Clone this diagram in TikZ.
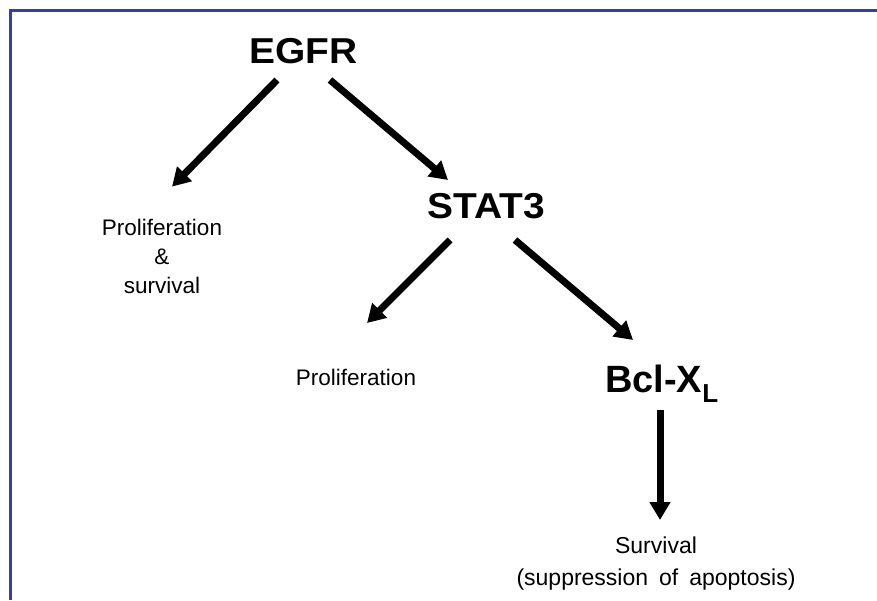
\documentclass[tikz,border=0pt]{standalone}
\usepackage{fontspec}
\setmainfont{Liberation Sans}
\usetikzlibrary{arrows.meta}
\definecolor{framecol}{RGB}{58,62,158}
\begin{document}
\begin{tikzpicture}[x=1pt,y=-1pt,
  big/.style={font=\fontsize{36}{40}\selectfont\bfseries, inner sep=0pt},
  small/.style={font=\fontsize{22.5}{29}\selectfont, inner sep=0pt, align=center},
  arr/.style={line width=7pt, -{Triangle[length=18pt,width=20pt]}}]
\useasboundingbox (0,0) rectangle (877,600);
\draw[framecol, line width=2.5pt] (877,10.5) -- (10.5,10.5) -- (10.5,600);

\node[big, anchor=base] (egfr) at (303.5,63) {\scalebox{1.08}[1]{EGFR}};
\node[big, anchor=base] (stat3) at (486.5,218) {\scalebox{1.08}[1]{STAT3}};
\node[big, anchor=base west] (bcl) at (605,392) {\fontsize{38}{40}\selectfont Bcl-X\raisebox{-10pt}{\fontsize{26}{28}\selectfont L}};

\node[small, anchor=north] (prol1) at (162,218.6) {Proliferation\\\&\\survival};
\node[small, anchor=base] (prol2) at (356,385) {Proliferation};
\node[small, anchor=north, font={\fontsize{23}{32}\selectfont\spaceskip=11pt\relax}] (surv) at (656,536.2) {Survival\\(suppression of apoptosis)};

\draw[arr] ([shift={(-26.5,17)}]egfr.base) -- ([shift={(10,-32)}]prol1.north);
\draw[arr] ([shift={(26.5,17)}]egfr.base) -- ([shift={(-38.5,-38)}]stat3.base);
\draw[arr] ([shift={(-36.5,22)}]stat3.base) -- ([shift={(11,-62)}]prol2.base);
\draw[arr] ([shift={(28.5,22)}]stat3.base) -- ([shift={(28,-52)}]bcl.base west);
\draw[arr] ([shift={(55,18)}]bcl.base west) -- ([shift={(4,-16.2)}]surv.north);
\end{tikzpicture}
\end{document}
